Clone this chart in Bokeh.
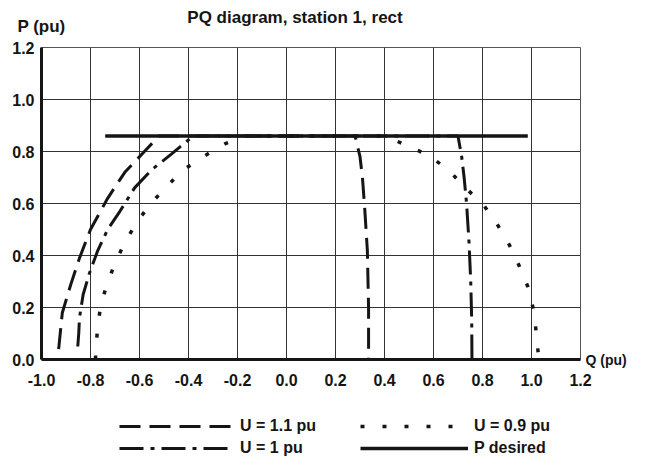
from bokeh.plotting import figure
from bokeh.layouts import column
from bokeh.models import (Range1d, FixedTicker, PrintfTickFormatter, Label, Legend,
                          LegendItem, LinearAxis)
from bokeh.embed import file_html
from bokeh.resources import INLINE

# ---- data ----
x_ticks = [-1.0, -0.8, -0.6, -0.4, -0.2, 0.0, 0.2, 0.4, 0.6, 0.8, 1.0, 1.2]
y_ticks = [0.0, 0.2, 0.4, 0.6, 0.8, 1.0, 1.2]

q_u11 = [-0.93, -0.915, -0.88, -0.845, -0.80, -0.73, -0.66, -0.58, -0.52,
         0.28, 0.30, 0.31, 0.32, 0.33, 0.335, 0.335]
p_u11 = [0.04, 0.18, 0.29, 0.39, 0.50, 0.62, 0.72, 0.80, 0.86,
         0.86, 0.78, 0.70, 0.57, 0.42, 0.20, 0.0]

q_u10 = [-0.852, -0.848, -0.845, -0.83, -0.805, -0.77, -0.73, -0.68, -0.62, -0.55, -0.47, -0.38,
         0.70, 0.715, 0.725, 0.735, 0.745, 0.752, 0.756, 0.757]
p_u10 = [0.05, 0.10, 0.16, 0.25, 0.33, 0.42, 0.50, 0.57, 0.66, 0.73, 0.79, 0.86,
         0.86, 0.78, 0.70, 0.60, 0.45, 0.30, 0.15, 0.0]

q_u09 = [-0.78, -0.773, -0.76, -0.736, -0.70, -0.66, -0.61, -0.553, -0.49, -0.42, -0.34, -0.25, -0.165,
         0.40, 0.50, 0.59, 0.67, 0.73, 0.80, 0.86, 0.91, 0.95, 0.985, 1.01, 1.02, 1.03]
p_u09 = [0.0, 0.10, 0.20, 0.28, 0.37, 0.45, 0.53, 0.60, 0.665, 0.73, 0.78, 0.83, 0.86,
         0.86, 0.82, 0.78, 0.72, 0.66, 0.60, 0.52, 0.44, 0.36, 0.28, 0.185, 0.095, 0.0]

q_pdes = [-0.74, 0.985]
p_pdes = [0.86, 0.86]

series = [
    ("U = 1.1 pu", q_u11, p_u11, dict(line_width=3, line_dash="21 9")),
    ("U = 1 pu", q_u10, p_u10, dict(line_width=3, line_dash="24 7 4 7")),
    ("U = 0.9 pu", q_u09, p_u09, dict(line_width=3.5, line_dash="4 18")),
    ("P desired", q_pdes, p_pdes, dict(line_width=3.5)),
]

FONT = "Liberation Sans"
INK = "#151515"
W = 629


def no_align(fig):
    if "frame_align" in fig.properties():
        fig.frame_align = False


# ---- top strip: title and P axis caption ----
top = figure(width=W, height=36, x_range=Range1d(0, W), y_range=Range1d(0, 36),
             x_axis_type=None, y_axis_type=None, output_backend="svg",
             toolbar_location=None, min_border=0)
no_align(top)
top.outline_line_color = None
top.background_fill_color = "white"
top.border_fill_color = "white"
top.add_layout(Label(x=294.5, y=19, text="PQ diagram, station 1, rect",
                     text_font=FONT, text_font_style="bold", text_font_size="17px",
                     text_align="center", text_baseline="middle", text_color=INK))
top.add_layout(Label(x=41, y=10, text="P (pu)",
                     text_font=FONT, text_font_style="bold", text_font_size="17px",
                     text_align="center", text_baseline="middle", text_color=INK))

# ---- main chart ----
p = figure(width=W, height=364,
           x_range=Range1d(-1.0, 1.2), y_range=Range1d(0.0, 1.2),
           output_backend="svg", toolbar_location=None,
           min_border_left=41, min_border_right=46,
           min_border_top=11, min_border_bottom=41)
no_align(p)
p.background_fill_color = "white"
p.border_fill_color = "white"
p.outline_line_color = "#555555"
p.outline_line_width = 1

for ax, ticks in ((p.xaxis, x_ticks), (p.yaxis, y_ticks)):
    ax.ticker = FixedTicker(ticks=ticks)
    ax.formatter = PrintfTickFormatter(format="%.1f")
    ax.axis_line_width = 3
    ax.axis_line_color = INK
    ax.major_tick_in = 0
    ax.major_tick_out = 0
    ax.minor_tick_in = 0
    ax.minor_tick_out = 0
    ax.major_label_text_font = FONT
    ax.major_label_text_font_style = "bold"
    ax.major_label_text_font_size = "16px"
    ax.major_label_text_color = INK
p.xaxis.major_label_standoff = 14
p.yaxis.major_label_standoff = 7

q_axis = LinearAxis(ticker=FixedTicker(ticks=[0.0]), major_label_overrides={0: "Q (pu)"},
                    axis_line_color=None, major_tick_in=0, major_tick_out=0,
                    minor_tick_in=0, minor_tick_out=0, major_label_standoff=5,
                    major_label_text_font=FONT, major_label_text_font_style="bold",
                    major_label_text_font_size="14px", major_label_text_color=INK)
p.add_layout(q_axis, "right")

for g in (p.xgrid, p.ygrid):
    g.grid_line_color = "#333333"
    g.grid_line_width = 1
p.xgrid.ticker = FixedTicker(ticks=x_ticks)
p.ygrid.ticker = FixedTicker(ticks=y_ticks)

for name, qs, ps, style in series:
    p.line(qs, ps, line_color=INK, **style)

# ---- bottom strip: legend ----
bot = figure(width=W, height=56, x_range=Range1d(-1.0, 1.2), y_range=Range1d(0.0, 1.2),
             x_axis_type=None, y_axis_type=None, output_backend="svg",
             toolbar_location=None, min_border=0)
no_align(bot)
bot.outline_line_color = None
bot.background_fill_color = "white"
bot.border_fill_color = "white"
leg_r = {}
for name, qs, ps, style in series:
    leg_r[name] = bot.line(qs, ps, line_color=INK, visible=False, **style)


def make_legend(names, loc, gw, standoff):
    return Legend(items=[LegendItem(label=n, renderers=[leg_r[n]]) for n in names],
                  location=loc, orientation="vertical",
                  glyph_width=gw, glyph_height=20, label_height=20, spacing=2,
                  padding=0, margin=0, label_standoff=standoff,
                  border_line_color=None, background_fill_alpha=0,
                  inactive_fill_alpha=0,
                  label_text_font=FONT, label_text_font_style="bold",
                  label_text_font_size="16px", label_text_color=INK)


bot.add_layout(make_legend(["U = 1.1 pu", "U = 1 pu"], (119, -2), 115, 6))
bot.add_layout(make_legend(["U = 0.9 pu", "P desired"], (360, -2), 108, 6))

layout = column(top, p, bot, spacing=0)
open("out.html", "w").write(file_html(layout, INLINE))
